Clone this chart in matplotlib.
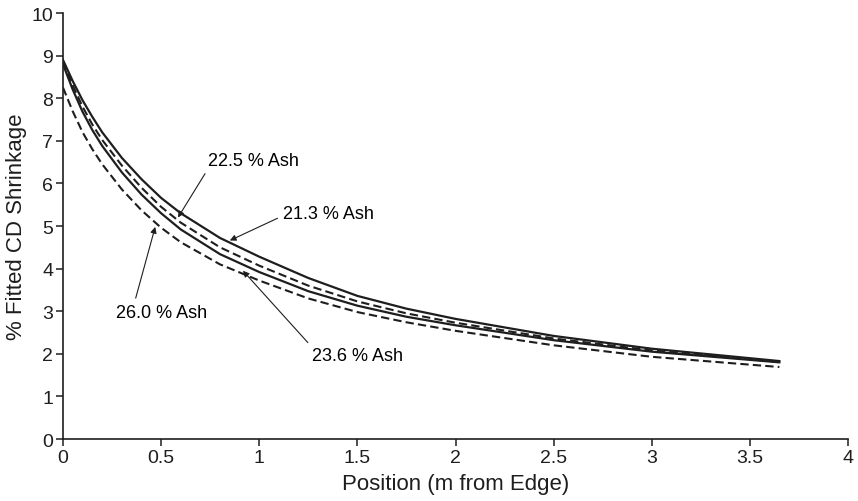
import matplotlib.pyplot as plt

plt.rcParams["font.family"] = ["Liberation Sans", "DejaVu Sans"]

# Position across the web (m from edge)
position = [0, 0.05, 0.1, 0.15, 0.2, 0.3, 0.4, 0.5, 0.6, 0.8, 1.0, 1.25, 1.5, 1.75, 2.0, 2.5, 3.0, 3.65]

# Fitted CD shrinkage (%) for each ash level
ash_213 = [8.9, 8.4, 7.95, 7.56, 7.2, 6.6, 6.1, 5.66, 5.3, 4.72, 4.28, 3.78, 3.36, 3.06, 2.82, 2.42, 2.12, 1.83]
ash_225 = [8.85, 8.3, 7.8, 7.38, 7.02, 6.42, 5.9, 5.45, 5.08, 4.5, 4.07, 3.6, 3.23, 2.95, 2.73, 2.36, 2.08, 1.81]
ash_236 = [8.8, 8.2, 7.68, 7.25, 6.88, 6.26, 5.74, 5.3, 4.92, 4.34, 3.92, 3.47, 3.13, 2.87, 2.67, 2.32, 2.05, 1.8]
ash_260 = [8.25, 7.69, 7.2, 6.8, 6.45, 5.86, 5.37, 4.96, 4.62, 4.1, 3.72, 3.3, 2.98, 2.74, 2.54, 2.2, 1.93, 1.69]

ink = "#1e1e1e"

fig = plt.figure(figsize=(8.58, 5.02), dpi=100)
ax = fig.add_axes([0.0734, 0.1235, 0.915, 0.8485])

ax.plot(position, ash_213, color=ink, lw=1.6)
ax.plot(position, ash_225, color=ink, lw=1.5, dashes=(4, 2))
ax.plot(position, ash_236, color=ink, lw=1.6)
ax.plot(position, ash_260, color=ink, lw=1.5, dashes=(4, 2))

# Labels with arrows
arrow = dict(arrowstyle="-|>", color=ink, lw=0.8, mutation_scale=9, shrinkA=2, shrinkB=0)
ax.annotate("22.5 % Ash", xy=(0.586, 5.2), xytext=(0.74, 6.55), fontsize=13,
            ha="left", va="center", arrowprops=dict(arrow, relpos=(0, 0)))
ax.annotate("21.3 % Ash", xy=(0.85, 4.66), xytext=(1.12, 5.3), fontsize=13,
            ha="left", va="center", arrowprops=dict(arrow, relpos=(0, 0.35)))
ax.annotate("26.0 % Ash", xy=(0.47, 4.98), xytext=(0.27, 2.98), fontsize=13,
            ha="left", va="center", arrowprops=dict(arrow, relpos=(0.2, 1)))
ax.annotate("23.6 % Ash", xy=(0.917, 3.95), xytext=(1.27, 1.95), fontsize=13,
            ha="left", va="center", arrowprops=dict(arrow, relpos=(0, 1)))

ax.set_xlim(0, 4)
ax.set_ylim(0, 10)
ax.set_xticks([0, 0.5, 1, 1.5, 2, 2.5, 3, 3.5, 4])
ax.set_xticklabels(["0", "0.5", "1", "1.5", "2", "2.5", "3", "3.5", "4"])
ax.set_yticks(range(0, 11))
ax.set_xlabel("Position (m from Edge)", fontsize=16, color=ink, labelpad=5)
ax.set_ylabel("% Fitted CD Shrinkage", fontsize=16, color=ink, labelpad=3)

ax.spines["top"].set_visible(False)
ax.spines["right"].set_visible(False)
for side in ["left", "bottom"]:
    ax.spines[side].set_linewidth(1.2)
    ax.spines[side].set_color(ink)
ax.tick_params(direction="out", length=5, width=1.1, colors=ink, labelsize=14, pad=2)

fig.savefig("out.png", dpi=100)
